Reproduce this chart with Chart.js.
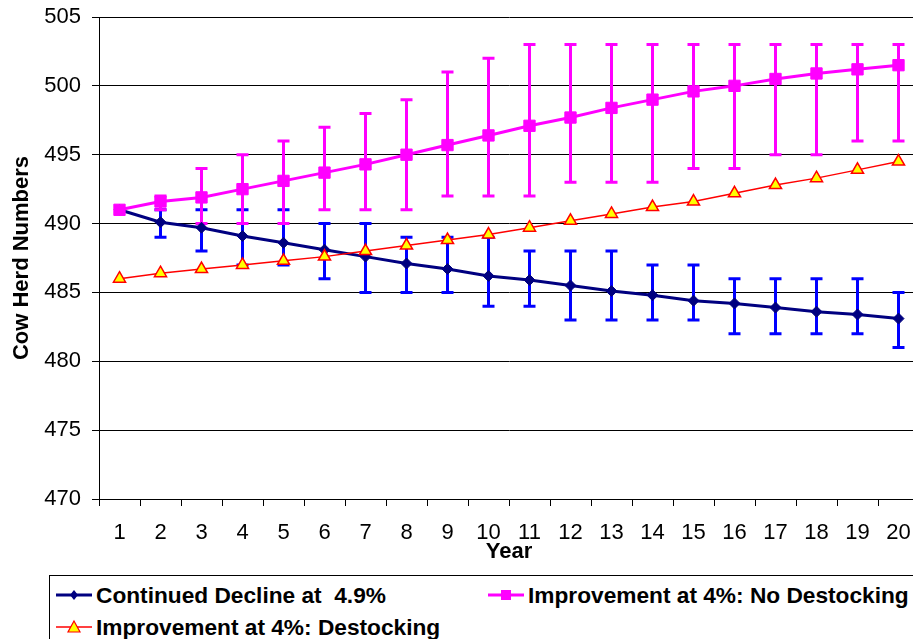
<!DOCTYPE html>
<html>
<head>
<meta charset="utf-8">
<script src="https://cdn.jsdelivr.net/npm/chart.js@4"></script>
<style>
  html, body { margin: 0; padding: 0; background: #fff; overflow: hidden; }
  body { width: 913px; height: 639px; position: relative; font-family: "Liberation Sans", Arial, sans-serif; }
  #herdChart { position: absolute; left: 0; top: 0; }
  #legend { position: absolute; left: 49px; top: 575px; width: 900px; height: 90px; border: 1px solid #000; box-sizing: border-box; }
  .item { position: absolute; height: 26px; line-height: 26px; font-weight: bold; font-size: 22.7px; color: #000; white-space: pre; }
  .item svg { position: absolute; left: 0; top: 3px; }
  .item span { position: absolute; left: 40px; top: 0; }
</style>
</head>
<body>
<canvas id="herdChart" width="930" height="575"></canvas>
<div id="legend"></div>
<script>
// Years on the x axis
const years = ['1','2','3','4','5','6','7','8','9','10','11','12','13','14','15','16','17','18','19','20'];

// Continued decline at 4.9%
const decline = [491.0, 490.1, 489.7, 489.1, 488.6, 488.1, 487.6, 487.1, 486.7, 486.2,
                 485.9, 485.5, 485.1, 484.8, 484.4, 484.2, 483.9, 483.6, 483.4, 483.1];
const declineLow = [null, 489, 488, 487, 487, 486, 485, 485, 485, 484,
                    484, 483, 483, 483, 483, 482, 482, 482, 482, 481];
const declineHigh = [null, 491, 491, 491, 491, 490, 490, 489, 489, 489,
                     488, 488, 488, 487, 487, 486, 486, 486, 486, 485];

// Improvement at 4%: no destocking
const noDestock = [491.0, 491.6, 491.9, 492.5, 493.1, 493.7, 494.3, 495.0, 495.7, 496.4,
                   497.1, 497.7, 498.4, 499.0, 499.6, 500.0, 500.5, 500.9, 501.2, 501.5];
const noDestockLow = [null, 491, 490, 490, 490, 491, 491, 491, 492, 492,
                      492, 493, 493, 493, 494, 494, 495, 495, 496, 496];
const noDestockHigh = [null, 492, 494, 495, 496, 497, 498, 499, 501, 502,
                       503, 503, 503, 503, 503, 503, 503, 503, 503, 503];

// Improvement at 4%: destocking
const destock = [486.0, 486.4, 486.7, 487.0, 487.3, 487.6, 488.0, 488.4, 488.8, 489.2,
                 489.7, 490.2, 490.7, 491.2, 491.6, 492.2, 492.8, 493.3, 493.9, 494.5];

const yTicks = [470, 475, 480, 485, 490, 495, 500, 505];

const FONT = '"Liberation Sans", Arial, sans-serif';

// Draws vertical error bars with caps, under the lines and markers
const errorBars = {
  id: 'errorBars',
  beforeDatasetsDraw(chart) {
    const ctx = chart.ctx;
    const y = chart.scales.y;
    chart.data.datasets.forEach((ds, di) => {
      if (!ds.errLow) return;
      const meta = chart.getDatasetMeta(di);
      ctx.save();
      ctx.strokeStyle = ds.errColor;
      ctx.lineWidth = 3;
      meta.data.forEach((pt, i) => {
        const lo = ds.errLow[i], hi = ds.errHigh[i];
        if (lo == null || hi == null) return;
        const x = pt.x;
        const y1 = y.getPixelForValue(lo), y2 = y.getPixelForValue(hi);
        ctx.beginPath();
        ctx.moveTo(x, y1); ctx.lineTo(x, y2);
        ctx.moveTo(x - 6, y1); ctx.lineTo(x + 6, y1);
        ctx.moveTo(x - 6, y2); ctx.lineTo(x + 6, y2);
        ctx.stroke();
      });
      ctx.restore();
    });
  }
};

const chart = new Chart(document.getElementById('herdChart'), {
  type: 'line',
  data: {
    labels: years,
    datasets: [
      {
        label: 'Continued Decline at  4.9%',
        data: decline,
        errLow: declineLow,
        errHigh: declineHigh,
        errColor: '#0000ff',
        borderColor: '#000080',
        backgroundColor: '#000080',
        borderWidth: 3,
        pointStyle: 'rectRot',
        pointRadius: 5.5,
        pointBorderWidth: 1,
        tension: 0,
        order: 2
      },
      {
        label: 'Improvement at 4%: No Destocking',
        data: noDestock,
        errLow: noDestockLow,
        errHigh: noDestockHigh,
        errColor: '#ff00ff',
        borderColor: '#ff00ff',
        backgroundColor: '#ff00ff',
        borderWidth: 3,
        pointStyle: 'rect',
        pointRadius: 8,
        pointBorderWidth: 1,
        tension: 0,
        order: 1
      },
      {
        label: 'Improvement at 4%: Destocking',
        data: destock,
        borderColor: '#ff0000',
        backgroundColor: '#ffff00',
        borderWidth: 1.5,
        pointStyle: 'triangle',
        pointRadius: 7,
        pointBorderColor: '#ff0000',
        pointBorderWidth: 1.5,
        tension: 0,
        order: 0
      }
    ]
  },
  options: {
    responsive: false,
    animation: false,
    layout: { padding: { top: 17, right: 11, left: 0, bottom: 0 } },
    plugins: {
      legend: { display: false },
      tooltip: { enabled: false }
    },
    scales: {
      x: {
        offset: true,
        grid: { offset: true, drawOnChartArea: false, color: '#000', tickLength: 7 },
        border: { color: '#000', width: 1 },
        ticks: { color: '#000', font: { family: FONT, size: 22 }, padding: 14, maxRotation: 0, autoSkip: false },
        title: { display: true, text: 'Year', color: '#000', font: { family: FONT, size: 22, weight: 'bold' }, padding: { top: 0, bottom: 10 } },
        afterFit(scale) {
          scale.height = 76;
          scale.paddingLeft = 0;
          scale.paddingRight = 0;
        }
      },
      y: {
        min: 470,
        max: 505,
        afterBuildTicks(scale) { scale.ticks = yTicks.map(v => ({ value: v })); },
        grid: { color: '#000', tickLength: 7 },
        border: { color: '#000', width: 1 },
        ticks: { color: '#000', font: { family: FONT, size: 22 }, padding: 11 },
        title: { display: true, text: 'Cow Herd Numbers', color: '#000', font: { family: FONT, size: 22, weight: 'bold' }, padding: { top: 9, bottom: 0 } },
        afterFit(scale) {
          scale.width = 99;
          scale.paddingTop = 0;
          scale.paddingBottom = 0;
        }
      }
    }
  },
  plugins: [errorBars]
});

// HTML legend built from the datasets
const legendPos = [
  { left: 6, top: 6 },
  { left: 438, top: 6 },
  { left: 6, top: 38 }
];
const legendEl = document.getElementById('legend');
chart.data.datasets.forEach((ds, i) => {
  const item = document.createElement('div');
  item.className = 'item';
  item.style.left = legendPos[i].left + 'px';
  item.style.top = legendPos[i].top + 'px';
  let marker = '';
  if (ds.pointStyle === 'rectRot') {
    marker = `<polygon points="18,5 22,10 18,15 14,10" fill="${ds.backgroundColor}"/>`;
  } else if (ds.pointStyle === 'rect') {
    marker = `<rect x="13" y="5" width="10" height="10" fill="${ds.backgroundColor}"/>`;
  } else {
    marker = `<polygon points="18,4 24,15 12,15" fill="${ds.backgroundColor}" stroke="${ds.pointBorderColor}" stroke-width="1.2"/>`;
  }
  item.innerHTML =
    `<svg width="36" height="20"><line x1="0" y1="10" x2="36" y2="10" stroke="${ds.borderColor}" stroke-width="${ds.borderWidth}"/>${marker}</svg>` +
    `<span>${ds.label}</span>`;
  legendEl.appendChild(item);
});
</script>
</body>
</html>
